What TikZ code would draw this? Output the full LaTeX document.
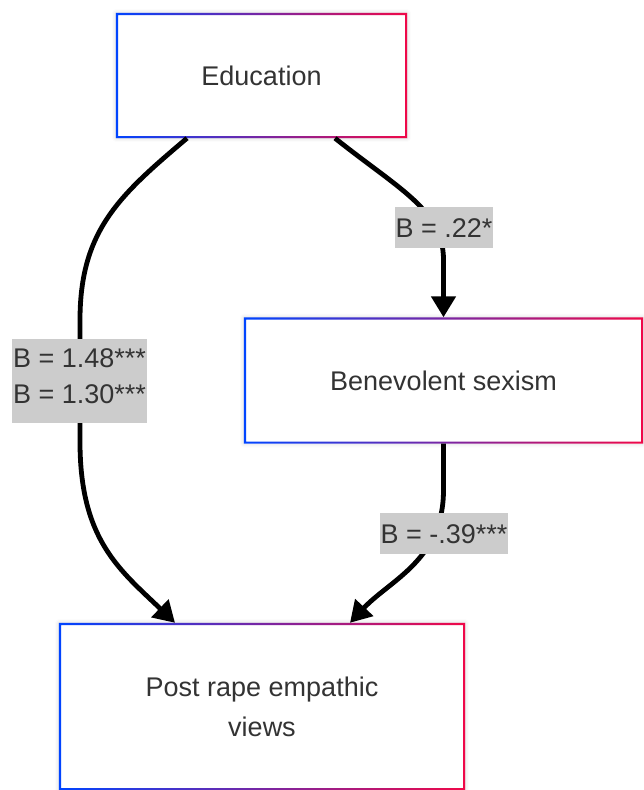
\documentclass[tikz,border=0pt]{standalone}
\usepackage{fontspec}
\setmainfont{Liberation Sans}
\usetikzlibrary{arrows.meta,shadows.blur}
\definecolor{edgeL}{RGB}{0,68,255}
\definecolor{edgeR}{RGB}{240,8,72}
\definecolor{txt}{RGB}{51,51,51}
\definecolor{coefbg}{RGB}{204,204,204}
\def\bw{2.2pt}
\begin{document}
\begin{tikzpicture}[x=1pt, y=-1pt,
  varbox/.style={fill=white, inner sep=0pt, align=center, text=txt,
    font=\fontsize{27}{40}\selectfont,
    blur shadow={shadow xshift=0pt, shadow yshift=0pt, shadow blur radius=4pt, shadow opacity=18}},
  coef/.style={fill=coefbg, inner xsep=1pt, inner ysep=11pt, text=txt,
    font=\fontsize{27}{36}\selectfont},
  link/.style={line width=4.8pt, -{Triangle[length=21pt,width=24pt]}}]
\useasboundingbox (0,0) rectangle (644,790);
% Boxes
\node[varbox, minimum width=291pt, minimum height=125pt] (edu) at (261.5,75.5) {Education};
\node[varbox, minimum width=399pt, minimum height=126pt] (bs) at (443.5,380.5) {Benevolent sexism};
\node[varbox, minimum width=406pt, minimum height=167pt] (prv) at (262,706.5) {Post rape empathic\\views};
% Gradient frames
\foreach \n in {edu,bs,prv}
  \shade[left color=edgeL, right color=edgeR, even odd rule]
    (\n.south west) rectangle (\n.north east)
    ([shift={(\bw,\bw)}]\n.south west) rectangle ([shift={(-\bw,-\bw)}]\n.north east);
% Edges
\draw[link] ([xshift=-74.5pt]edu.south) .. controls (120,195) and (80,230) .. (80,320)
  -- (80,442) .. controls (80,540) and (120,570) .. ([xshift=-87pt]prv.north);
\draw[link] ([xshift=73.5pt]edu.south) .. controls (400,190) and (443.5,210) .. (443.5,260)
  -- (bs.north);
\draw[link] (bs.south) -- (443.5,490) .. controls (443.5,560) and (390,580) .. ([xshift=88pt]prv.north);
% Coefficients
\node[coef, align=center, inner ysep=0pt, minimum height=84pt] (c1) at (79.5,381)
  {B = 1.48***\\B = 1.30***\rule[-9pt]{0pt}{9pt}};
\node[coef, text height=19.5pt, text depth=0pt] (c2) at (444,227.5) {B = .22*};
\node[coef, text height=19.5pt, text depth=0pt] (c3) at (444,533.5) {B = -.39***};
\end{tikzpicture}
\end{document}
